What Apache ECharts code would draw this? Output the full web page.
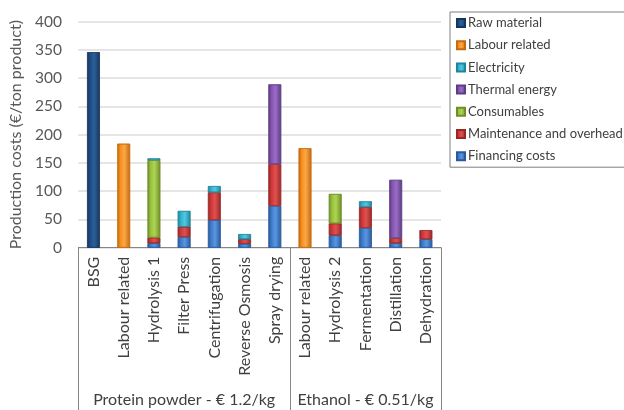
<!DOCTYPE html>
<html>
<head>
<meta charset="utf-8">
<script src="https://cdn.jsdelivr.net/npm/echarts@6/dist/echarts.min.js"></script>
<style>
  html, body { margin: 0; padding: 0; background: #fff; }
  #main { width: 624px; height: 410px; }
</style>
</head>
<body>
<div id="main"></div>
<script>
// Process steps (x axis), grouped by product line
const categories = ['BSG', 'Labour related', 'Hydrolysis 1', 'Filter Press', 'Centrifugation',
  'Reverse Osmosis', 'Spray drying', 'Labour related', 'Hydrolysis 2', 'Fermentation',
  'Distillation', 'Dehydration'];
const groupNames = ['Protein powder - € 1.2/kg', 'Ethanol - € 0.51/kg'];
const groupSizes = [7, 5];

// Cost components, €/ton product (null = not present)
const financingCosts = [null, null, 8, 19, 49, 7, 74, null, 22, 35, 8, 15];
const maintenanceOverhead = [null, null, 10, 18, 49, 8, 74, null, 21, 37, 9, 16];
const consumables = [null, null, 137, null, null, null, null, null, 52, null, null, null];
const thermalEnergy = [null, null, null, null, null, null, 141, null, null, null, 103, null];
const electricity = [null, null, 3, 28, 11, 9, null, null, null, 10, null, null];
const labourRelated = [null, 184, null, null, null, null, null, 176, null, null, null, null];
const rawMaterial = [346, null, null, null, null, null, null, null, null, null, null, null];

const yTicks = { min: 0, max: 400, interval: 50 };

const FONT = 'Lato, "Liberation Sans", sans-serif';

function shaded(base, dark, light) {
  return new echarts.graphic.LinearGradient(0, 0, 1, 0, [
    { offset: 0, color: dark },
    { offset: 0.25, color: base },
    { offset: 0.55, color: light },
    { offset: 1, color: dark }
  ]);
}

// stacking order bottom -> top
const seriesDefs = [
  { name: 'Financing costs', data: financingCosts, c: ['#3d7ccc', '#2a5a9a', '#5a96e0'] },
  { name: 'Maintenance and overhead', data: maintenanceOverhead, c: ['#d03838', '#982828', '#e05050'] },
  { name: 'Consumables', data: consumables, c: ['#98c23c', '#6e8e28', '#aed354'] },
  { name: 'Thermal energy', data: thermalEnergy, c: ['#8456b2', '#5c3c82', '#9a6cc6'] },
  { name: 'Electricity', data: electricity, c: ['#30b2cd', '#20859c', '#52c8e0'] },
  { name: 'Labour related', data: labourRelated, c: ['#f6901e', '#c46a10', '#fba844'] },
  { name: 'Raw material', data: rawMaterial, c: ['#1f4d84', '#15365e', '#2b6099'] }
];

const legendOrder = ['Raw material', 'Labour related', 'Electricity', 'Thermal energy',
  'Consumables', 'Maintenance and overhead', 'Financing costs'];

const chart = echarts.init(document.getElementById('main'), null, { renderer: 'canvas' });

const option = {
  animation: false,
  backgroundColor: '#ffffff',
  grid: { left: 74, right: 183, top: 21.7, bottom: 162.3, containLabel: false },
  legend: {
    data: legendOrder,
    orient: 'vertical',
    left: 450,
    top: 12,
    padding: [4, 30, 4, 6],
    itemGap: 8.2,
    itemWidth: 8,
    itemHeight: 8,
    icon: 'rect',
    borderColor: '#7f7f7f',
    borderWidth: 1,
    textStyle: { fontFamily: FONT, fontSize: 13, color: '#404040', lineHeight: 14, padding: [0, 0, 0, -2] }
  },
  xAxis: {
    type: 'category',
    data: categories,
    axisLine: { show: true, lineStyle: { color: '#868686', width: 1 } },
    axisTick: { show: false },
    axisLabel: {
      rotate: 90, margin: 9, interval: 0,
      fontFamily: FONT, fontSize: 16, color: '#404040'
    }
  },
  yAxis: {
    type: 'value',
    min: yTicks.min, max: yTicks.max, interval: yTicks.interval,
    name: 'Production costs (€/ton product)',
    nameLocation: 'middle',
    nameGap: 40,
    nameTextStyle: { fontFamily: FONT, fontSize: 16, color: '#595959' },
    axisLine: { show: false },
    axisTick: { show: false },
    axisLabel: { margin: 16.5, fontFamily: FONT, fontSize: 15.5, color: '#595959' },
    splitLine: { lineStyle: { color: '#dcdcdc', width: 1.5 } }
  },
  series: seriesDefs.map(d => ({
    name: d.name,
    type: 'bar',
    stack: 'cost',
    barWidth: '42%',
    data: d.data,
    itemStyle: {
      color: shaded(d.c[0], d.c[1], d.c[2]),
      borderColor: d.c[1],
      borderWidth: 0.6
    }
  }))
};

chart.setOption(option);

// Group brackets under the category axis: separators at group edges and centred group names
function drawGroups() {
  const px = i => chart.convertToPixel({ xAxisIndex: 0 }, i);
  const band = px(1) - px(0);
  const yBase = chart.convertToPixel({ yAxisIndex: 0 }, 0);
  const bottom = chart.getHeight();
  const elements = [];
  let start = 0;
  const edges = [px(0) - band / 2];
  groupSizes.forEach((n, g) => {
    const left = px(start) - band / 2;
    const right = px(start + n - 1) + band / 2;
    edges.push(right);
    elements.push({
      type: 'text',
      x: (left + right) / 2,
      y: 400,
      style: {
        text: groupNames[g],
        fontFamily: FONT, fontSize: 16, fill: '#404040',
        align: 'center', verticalAlign: 'middle'
      }
    });
    start += n;
  });
  edges.forEach(x => {
    elements.push({
      type: 'line',
      shape: { x1: Math.round(x) + 0.5, y1: yBase, x2: Math.round(x) + 0.5, y2: bottom },
      style: { stroke: '#868686', lineWidth: 1 }
    });
  });
  chart.setOption({ graphic: elements });
}
drawGroups();
</script>
</body>
</html>
